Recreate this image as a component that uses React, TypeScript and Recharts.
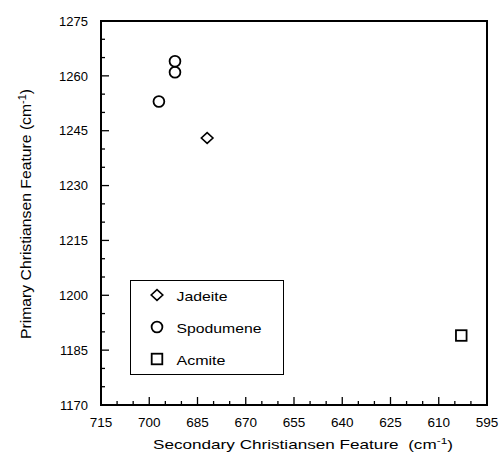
import React from "react";
import {
  Label,
  Legend,
  ReferenceArea,
  Scatter,
  ScatterChart,
  XAxis,
  YAxis,
} from "recharts";

// values
const jadeite = [{ x: 682, y: 1243 }];
const spodumene = [
  { x: 697, y: 1253 },
  { x: 692, y: 1261 },
  { x: 692, y: 1264 },
];
const acmite = [{ x: 603, y: 1189 }];

const xMajorTicks = [715, 700, 685, 670, 655, 640, 625, 610, 595];
const xMinorTicks = [710, 705, 695, 690, 680, 675, 665, 660, 650, 645, 635, 630, 620, 615, 605, 600];
const yMajorTicks = [1170, 1185, 1200, 1215, 1230, 1245, 1260, 1275];
const yMinorTicks = [1175, 1180, 1190, 1195, 1205, 1210, 1220, 1225, 1235, 1240, 1250, 1255, 1265, 1270];

const legendItems = [
  { name: "Jadeite", kind: "diamond", width: 51 },
  { name: "Spodumene", kind: "circle", width: 85 },
  { name: "Acmite", kind: "square", width: 49 },
];

const FONT = "'Liberation Sans', Arial, Helvetica, sans-serif";
const INK = "#000";

function Marker({ kind, cx, cy }: { kind: string; cx: number; cy: number }) {
  if (kind === "diamond") {
    return (
      <path
        d={`M${cx},${cy - 5.4} L${cx + 5.8},${cy} L${cx},${cy + 5.4} L${cx - 5.8},${cy} Z`}
        fill="#fff"
        stroke={INK}
        strokeWidth={1.6}
      />
    );
  }
  if (kind === "square") {
    return (
      <rect x={cx - 5.3} y={cy - 5.3} width={10.6} height={10.6} fill="#fff" stroke={INK} strokeWidth={1.8} />
    );
  }
  return <circle cx={cx} cy={cy} r={5.4} fill="#fff" stroke={INK} strokeWidth={1.8} />;
}

// ticks point inwards; only the majors get a label
function XTick({ x, y, payload }: any) {
  const major = xMajorTicks.includes(payload.value);
  return (
    <g>
      <line x1={x} x2={x} y1={y} y2={y - (major ? 8 : 4)} stroke={INK} strokeWidth={1.3} />
      {major && (
        <text x={x} y={y + 22} textAnchor="middle" fontSize={13.5} fontFamily={FONT} fill={INK}>
          {payload.value}
        </text>
      )}
    </g>
  );
}

function YTick({ x, y, payload }: any) {
  const major = yMajorTicks.includes(payload.value);
  return (
    <g>
      <line x1={x} x2={x + (major ? 8 : 4)} y1={y} y2={y} stroke={INK} strokeWidth={1.3} />
      {major && (
        <text x={x - 13} y={y} dy="0.36em" textAnchor="end" fontSize={13} fontFamily={FONT} fill={INK}>
          {payload.value}
        </text>
      )}
    </g>
  );
}

function XTitle({ viewBox }: any) {
  const cx = viewBox.x + viewBox.width / 2 + 9;
  return (
    <text
      x={cx}
      y={viewBox.y + 44}
      textAnchor="middle"
      fontSize={13}
      fontFamily={FONT}
      fill={INK}
      textLength={300}
      lengthAdjust="spacingAndGlyphs"
    >
      Secondary Christiansen Feature{"\u00a0\u00a0"}(cm
      <tspan baselineShift="super" fontSize={9}>-1</tspan>
      <tspan>)</tspan>
    </text>
  );
}

function YTitle({ viewBox }: any) {
  const bx = viewBox.x + 31;
  const cy = viewBox.y + viewBox.height / 2 + 1;
  return (
    <text
      x={bx}
      y={cy}
      transform={`rotate(-90 ${bx} ${cy})`}
      textAnchor="middle"
      fontSize={14.5}
      fontFamily={FONT}
      fill={INK}
      textLength={250}
      lengthAdjust="spacingAndGlyphs"
    >
      Primary Christiansen Feature (cm
      <tspan baselineShift="super" fontSize={10}>-1</tspan>
      <tspan>)</tspan>
    </text>
  );
}

function LegendBox() {
  return (
    <svg width={151} height={92} style={{ display: "block" }}>
      {legendItems.map((item, i) => {
        const rowY = 14 + i * 32;
        return (
          <g key={item.name}>
            <Marker kind={item.kind} cx={26} cy={rowY} />
            <text
              x={45.5}
              y={rowY + 5.5}
              fontSize={13.5}
              fontFamily={FONT}
              fill={INK}
              textLength={item.width}
              lengthAdjust="spacingAndGlyphs"
            >
              {item.name}
            </text>
          </g>
        );
      })}
    </svg>
  );
}

export default function App() {
  return (
    <div style={{ position: "absolute", left: 0, top: 0, background: "#fff" }}>
      <ScatterChart width={500} height={464} margin={{ top: 21, right: 13, bottom: 0, left: 0 }}>
        {/* closed frame around the plot area */}
        <ReferenceArea
          x1={715}
          x2={595}
          y1={1170}
          y2={1275}
          fill="none"
          stroke={INK}
          strokeWidth={2}
          ifOverflow="visible"
        />
        <XAxis
          type="number"
          dataKey="x"
          domain={[595, 715]}
          reversed
          ticks={[...xMajorTicks, ...xMinorTicks]}
          interval={0}
          tickSize={0}
          tickMargin={0}
          tickLine={false}
          tick={<XTick />}
          axisLine={{ stroke: INK, strokeWidth: 2 }}
          height={59}
        >
          <Label content={<XTitle />} />
        </XAxis>
        <YAxis
          type="number"
          dataKey="y"
          domain={[1170, 1275]}
          ticks={[...yMajorTicks, ...yMinorTicks]}
          interval={0}
          tickSize={0}
          tickMargin={0}
          tickLine={false}
          tick={<YTick />}
          axisLine={{ stroke: INK, strokeWidth: 2 }}
          width={101}
        >
          <Label content={<YTitle />} />
        </YAxis>
        <Legend
          layout="vertical"
          align="center"
          verticalAlign="middle"
          content={<LegendBox />}
          wrapperStyle={{
            left: 130,
            top: 280,
            width: 154,
            height: 95,
            border: "1.5px solid #000",
            background: "#fff",
            boxSizing: "border-box",
          }}
        />
        <Scatter
          name="Jadeite"
          data={jadeite}
          isAnimationActive={false}
          shape={(p: any) => <Marker kind="diamond" cx={p.cx} cy={p.cy} />}
        />
        <Scatter
          name="Spodumene"
          data={spodumene}
          isAnimationActive={false}
          shape={(p: any) => <Marker kind="circle" cx={p.cx} cy={p.cy} />}
        />
        <Scatter
          name="Acmite"
          data={acmite}
          isAnimationActive={false}
          shape={(p: any) => <Marker kind="square" cx={p.cx} cy={p.cy} />}
        />
      </ScatterChart>
    </div>
  );
}
